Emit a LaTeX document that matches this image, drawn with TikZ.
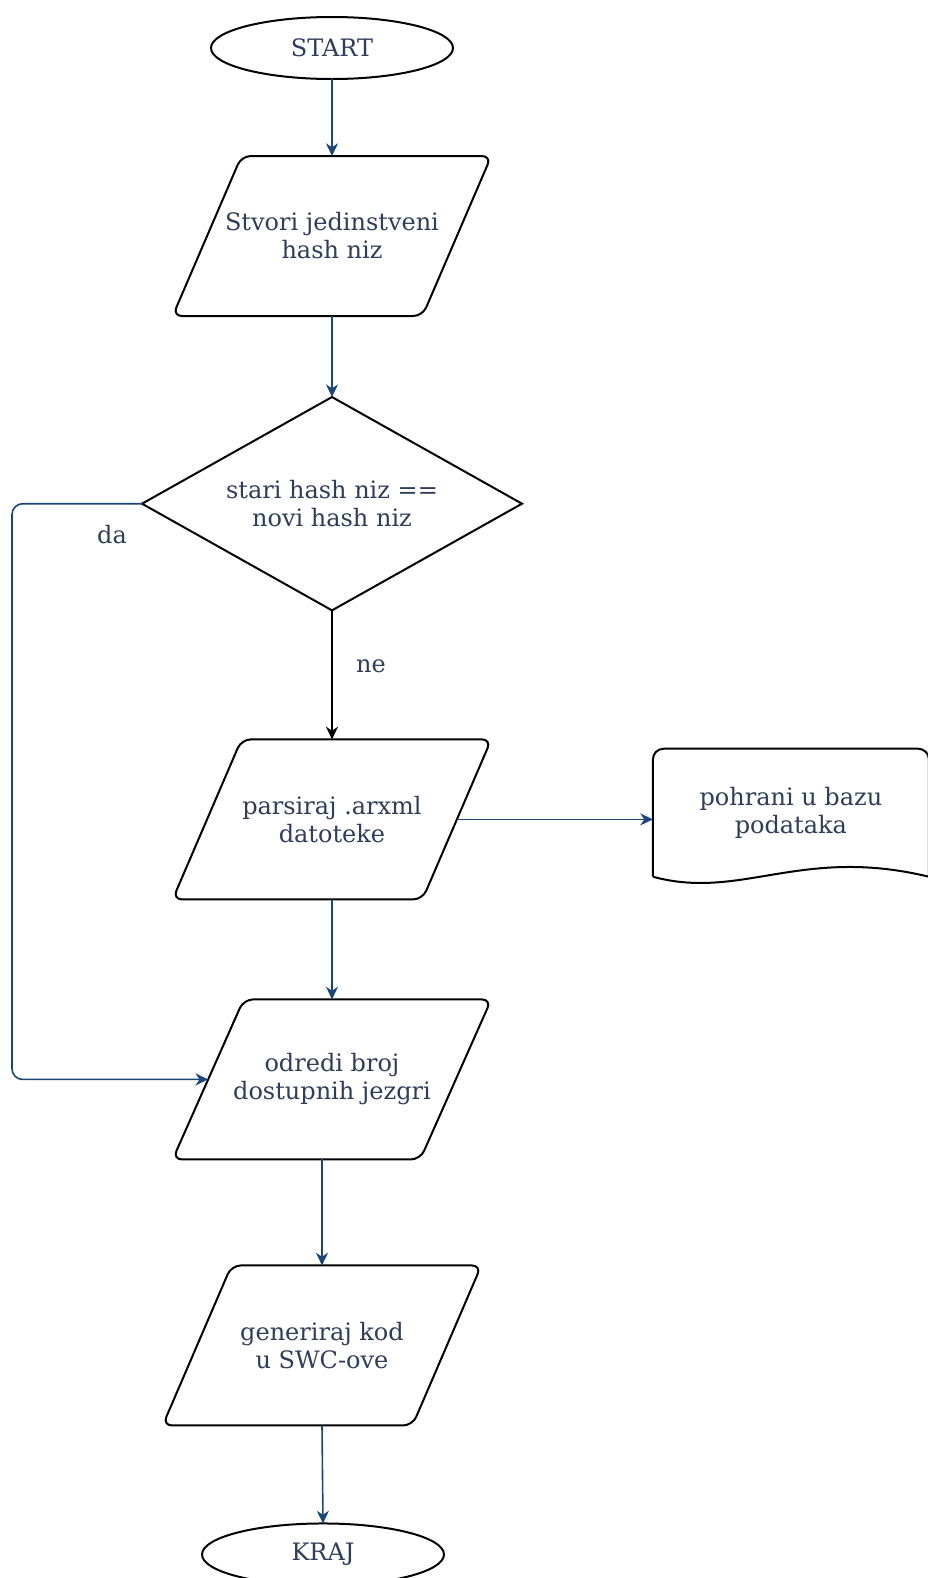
\documentclass[tikz,border=0pt]{standalone}
\usepackage{fontspec}
\setmainfont{DejaVu Serif}
\usepackage{xcolor}
\usetikzlibrary{positioning,shapes.geometric,arrows.meta}

\definecolor{txt-blue}{HTML}{2E3D5A}
\definecolor{flow-blue}{HTML}{1B4679}

\begin{document}
\begin{tikzpicture}
[
x=0.75pt, y=-0.75pt,
every node/.style={font=\fontsize{18}{21}\selectfont, text=txt-blue},
term-a/.style={ellipse, draw, line width=1.5pt, minimum width=181.5pt, minimum height=46.5pt, inner sep=0pt, outer sep=0pt},
io-a/.style={trapezium, trapezium left angle=66, trapezium right angle=114, trapezium stretches body, draw, line width=1.5pt, rounded corners=7pt, minimum width=239pt, minimum height=120pt, inner xsep=-20pt, inner ysep=40.5pt, outer sep=0pt, align=center},
dec-a/.style={diamond, draw, line width=1.5pt, aspect=1.784, minimum width=285pt, minimum height=160pt, inner sep=0pt, outer sep=0pt, align=center},
doc-a/.style={minimum width=207pt, minimum height=96pt, inner sep=0pt, outer sep=0pt, align=center},
doc-line/.style={line width=1.5pt},
flow/.style={-{Stealth[length=9.5pt, width=9pt, inset=3pt]}, line width=1.2pt, flow-blue},
flow-k/.style={flow, black},
text-a/.style={inner sep=0pt}
]
\clip (0,0) rectangle (928,1578);
\node (start)    [term-a] at (332,48)                 {START};
\node (stvori)   [io-a, below = 57.75pt of start]     {Stvori jedinstveni\\hash niz};
\node (dec)      [dec-a, below = 60.75pt of stvori]   {stari hash niz ==\\novi hash niz};
\node (parsiraj) [io-a, below = 96.75pt of dec]       {parsiraj .arxml\\datoteke};
\node (spremi)   [doc-a, right = 147pt of parsiraj, yshift=5pt] {pohrani u bazu\\podataka};
\node (odredi)   [io-a, below = 75pt of parsiraj]     {odredi broj\\dostupnih jezgri};
\node (gen)      [io-a, below = 79.5pt of odredi, xshift=-7.5pt] {generiraj kod\\u SWC-ove};
\node (kraj)     [term-a, below = 73.5pt of gen, xshift=0.75pt] {KRAJ};
\node (da)       [text-a] at ([shift={(-30,31)}]dec.west)  {da};
\node (ne)       [text-a] at ([shift={(39,56)}]dec.south)  {ne};
\coordinate (loop) at (12,0);
% document outline
\draw [doc-line, rounded corners=8pt] (spremi.south west) -- (spremi.north west) -- (spremi.north east) -- (spremi.south east);
\draw [doc-line] (spremi.south west) .. controls +(88,24) and +(-128,-31) .. (spremi.south east);
% connectors
\draw [flow] (start) -- (stvori);
\draw [flow] (stvori) -- (dec);
\draw [flow-k] (dec) -- (parsiraj);
\draw [flow] (parsiraj.east) -- (parsiraj.east -| spremi.west);
\draw [flow] (parsiraj) -- (odredi);
\draw [flow, rounded corners=8pt] (dec.west) -- (dec.west -| loop) |- (odredi.west);
\draw [flow] (odredi.south -| gen.north) -- (gen.north);
\draw [flow] (gen.south) -- (kraj.north);
\end{tikzpicture}
\end{document}
